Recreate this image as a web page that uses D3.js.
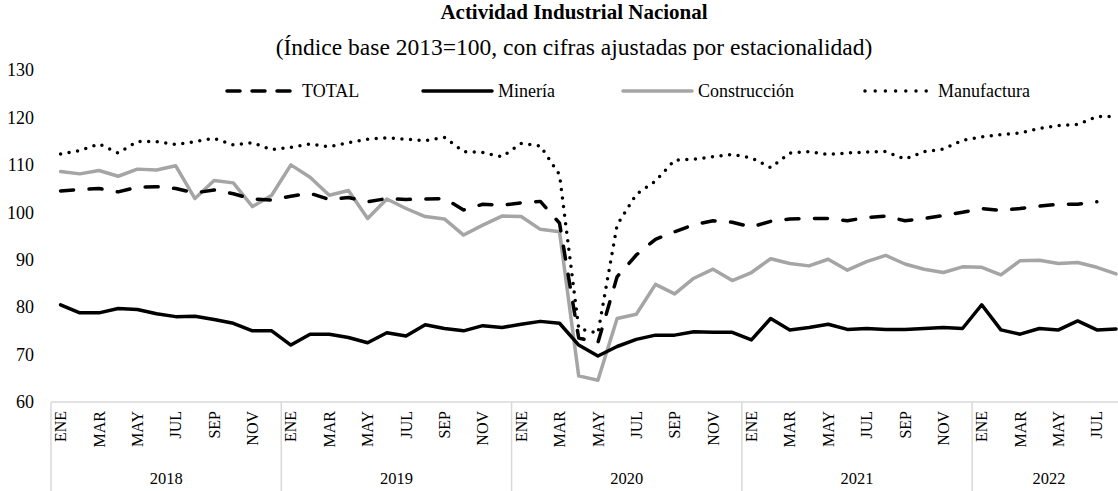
<!DOCTYPE html>
<html>
<head>
<meta charset="utf-8">
<script src="https://cdn.jsdelivr.net/npm/d3@7"></script>
<style>
  body { margin: 0; background: #fff; }
  svg { display: block; font-family: "Liberation Serif", "Times New Roman", serif; }
</style>
</head>
<body>
<div id="chart"></div>
<script>
const years = ['2018', '2019', '2020', '2021', '2022'];
const monthNames = ['ENE', 'FEB', 'MAR', 'ABR', 'MAY', 'JUN', 'JUL', 'AGO', 'SEP', 'OCT', 'NOV', 'DIC'];
const shownMonths = ['ENE', 'MAR', 'MAY', 'JUL', 'SEP', 'NOV'];
const yTicks = [60, 70, 80, 90, 100, 110, 120, 130];

// Ene 2018 - Jul 2022
const total = [
  104.5, 104.8, 105.0, 104.3, 105.3, 105.4, 105.0, 104.1, 104.7, 103.9, 102.8, 102.6,
  103.4, 104.0, 102.7, 103.1, 102.2, 102.9, 102.7, 102.8, 102.9, 100.5, 101.7, 101.5,
  102.0, 102.3, 97.7, 73.5, 72.5, 86.4, 91.0, 94.3, 95.9, 97.4, 98.2, 97.9,
  96.9, 98.1, 98.6, 98.7, 98.7, 98.2, 98.9, 99.2, 98.2, 98.7, 99.3, 100.0,
  100.8, 100.4, 100.8, 101.3, 101.7, 101.7, 102.2,
];
// Ene 2018 - Ago 2022
const mineria = [
  80.5, 78.8, 78.8, 79.7, 79.5, 78.6, 78.0, 78.1, 77.4, 76.6, 75.0, 75.0,
  72.0, 74.3, 74.3, 73.6, 72.5, 74.6, 73.9, 76.3, 75.5, 75.0, 76.1, 75.7,
  76.4, 77.0, 76.6, 72.0, 69.7, 71.7, 73.2, 74.1, 74.1, 74.8, 74.7, 74.7,
  73.1, 77.6, 75.2, 75.7, 76.4, 75.3, 75.5, 75.3, 75.3, 75.5, 75.7, 75.5,
  80.5, 75.2, 74.3, 75.5, 75.2, 77.1, 75.2, 75.4,
];
const construccion = [
  108.6, 108.1, 108.8, 107.6, 109.1, 108.9, 109.8, 102.9, 106.7, 106.2, 101.2, 103.6,
  110.0, 107.4, 103.6, 104.6, 98.7, 102.8, 100.8, 99.1, 98.6, 95.2, 97.3, 99.2,
  99.1, 96.4, 95.9, 65.5, 64.6, 77.6, 78.5, 84.8, 82.8, 86.1, 88.0, 85.6,
  87.3, 90.2, 89.2, 88.7, 90.1, 87.8, 89.6, 90.9, 89.1, 88.0, 87.3, 88.5,
  88.4, 86.8, 89.8, 89.9, 89.2, 89.4, 88.4, 87.0,
];
const manufactura = [
  112.3, 113.0, 114.4, 112.5, 114.9, 114.9, 114.3, 114.9, 115.6, 114.2, 114.7, 113.2,
  113.7, 114.4, 113.8, 114.7, 115.4, 115.7, 115.4, 115.1, 115.8, 112.8, 112.6, 111.7,
  114.5, 114.0, 107.9, 75.5, 74.5, 97.3, 103.8, 106.6, 111.0, 111.2, 111.7, 112.2,
  111.5, 109.4, 112.5, 112.8, 112.2, 112.5, 112.7, 112.8, 111.2, 112.8, 113.3, 115.2,
  115.9, 116.4, 116.7, 117.7, 118.3, 118.5, 120.2, 120.2,
];

const width = 1118;
const height = 491;
const left = 51;
const step = 19.19;
const axisY = 402;

// one key per month, Ene 2018 .. Ago 2022
const months = [];
years.forEach((yr) => monthNames.forEach((m) => {
  if (months.length < manufactura.length) months.push({ key: `${yr}-${m}`, year: yr, month: m });
}));

const x = d3.scaleBand()
  .domain(months.map((d) => d.key))
  .range([left, left + months.length * step])
  .padding(0);
const cx = (i) => x(months[i].key) + x.bandwidth() / 2;

const y = d3.scaleLinear().domain([60, 130]).range([axisY, 70]);

const svg = d3.select('#chart').append('svg')
  .attr('width', width)
  .attr('height', height);

svg.append('text')
  .attr('x', 574).attr('y', 19)
  .attr('text-anchor', 'middle')
  .style('font-size', '21px').style('font-weight', 'bold')
  .text('Actividad Industrial Nacional');
svg.append('text')
  .attr('x', 574).attr('y', 55)
  .attr('text-anchor', 'middle')
  .style('font-size', '23.5px')
  .text('(Índice base 2013=100, con cifras ajustadas por estacionalidad)');

// y labels, no axis line
svg.append('g')
  .selectAll('text')
  .data(yTicks)
  .join('text')
  .attr('x', 34)
  .attr('y', (d) => y(d))
  .attr('dy', '0.35em')
  .attr('text-anchor', 'end')
  .style('font-size', '18px')
  .text((d) => d);

// x axis: base line, year separators, month and year labels
const xg = svg.append('g');
xg.append('line')
  .attr('x1', left).attr('x2', width)
  .attr('y1', axisY).attr('y2', axisY)
  .attr('stroke', '#d9d9d9').attr('stroke-width', 1.5);

const yearStarts = years.map((yr) => months.findIndex((m) => m.year === yr));
xg.selectAll('line.sep')
  .data(yearStarts)
  .join('line')
  .attr('class', 'sep')
  .attr('x1', (i) => x(months[i].key)).attr('x2', (i) => x(months[i].key))
  .attr('y1', axisY).attr('y2', height)
  .attr('stroke', '#d9d9d9').attr('stroke-width', 1.5);

xg.selectAll('text.month')
  .data(months.map((m, i) => ({ ...m, i })).filter((m) => shownMonths.includes(m.month)))
  .join('text')
  .attr('class', 'month')
  .attr('transform', (d) => `translate(${cx(d.i)},${axisY + 9}) rotate(-90)`)
  .attr('dy', '0.35em')
  .attr('text-anchor', 'end')
  .style('font-size', '16px')
  .text((d) => d.month);

xg.selectAll('text.year')
  .data(years)
  .join('text')
  .attr('class', 'year')
  .attr('x', (yr) => {
    const idx = months.filter((m) => m.year === yr);
    return (x(idx[0].key) + x(idx[idx.length - 1].key) + x.bandwidth()) / 2;
  })
  .attr('y', 484)
  .attr('text-anchor', 'middle')
  .style('font-size', '16.5px')
  .text((d) => d);

// series
const series = [
  { name: 'TOTAL', values: total, color: '#000', width: 3.5, dash: '13,15.5', legendDash: '13,12' },
  { name: 'Minería', values: mineria, color: '#000', width: 3.5, dash: null, legendDash: null },
  { name: 'Construcción', values: construccion, color: '#a5a5a5', width: 3.5, dash: null, legendDash: null },
  { name: 'Manufactura', values: manufactura, color: '#000', width: 3.5, dash: '0,8.6', legendDash: '0,10.2' },
];

const line = d3.line()
  .x((d, i) => cx(i))
  .y((d) => y(d));

const draw = [series[2], series[1], series[0], series[3]];
svg.append('g')
  .selectAll('path')
  .data(draw)
  .join('path')
  .attr('d', (s) => line(s.values))
  .attr('fill', 'none')
  .attr('stroke', (s) => s.color)
  .attr('stroke-width', (s) => s.width)
  .attr('stroke-linejoin', 'round')
  .attr('stroke-linecap', 'round')
  .attr('stroke-dasharray', (s) => s.dash);

// legend
const legendX = [227, 423, 623, 865];
const legend = svg.append('g');
series.forEach((s, i) => {
  legend.append('line')
    .attr('x1', legendX[i]).attr('x2', legendX[i] + 69)
    .attr('y1', 91).attr('y2', 91)
    .attr('stroke', s.color)
    .attr('stroke-width', s.width)
    .attr('stroke-linecap', 'round')
    .attr('stroke-dasharray', s.legendDash);
  legend.append('text')
    .attr('x', legendX[i] + (i === 3 ? 73 : 75))
    .attr('y', 91)
    .attr('dy', '0.33em')
    .style('font-size', '18px')
    .text(s.name);
});
</script>
</body>
</html>
